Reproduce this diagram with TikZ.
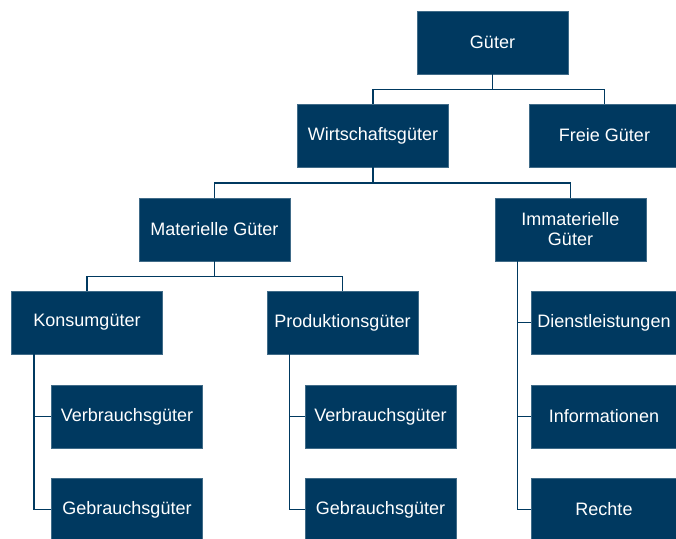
\documentclass[tikz,border=0pt]{standalone}
\usepackage{fontspec}
\setmainfont{Liberation Sans}
\definecolor{gueterblau}{RGB}{0,57,96}
\tikzset{every picture/.style={line width=0.75pt}}
\tikzset{
  box/.style={fill=gueterblau, draw=gueterblau!75!white, line width=0.4pt, text=white,
    minimum width=113.25pt, minimum height=47.25pt, inner sep=2pt, align=center,
    font=\fontsize{13.5}{15}\selectfont},
  schmal/.style={minimum width=108.75pt},
  ast/.style={draw=gueterblau, line width=1.1pt}
}
\begin{document}
\begin{tikzpicture}[x=0.75pt,y=0.75pt,yscale=-1,xscale=1]
\useasboundingbox (0,0) rectangle (676,539);

% Ebene 1 und 2
\node [box] (gueter) at (492.5,42.5) {Güter};
\node [box] (wirtschaft) at (373,135.5) {Wirtschaftsgüter};
\node [box] (freie) at (604.5,135.5) {Freie Güter};

% Ebene 3
\node [box] (materiell) at (214.5,229.5) {Materielle Güter};
\node [box] (immateriell) at (570.5,229.5) {Immaterielle\\Güter};

% Ebene 4
\node [box] (konsum) at (87,322.5) {Konsumgüter};
\node [box] (produktion) at (342.5,322.5) {Produktionsgüter};
\node [box,schmal] (dienst) at (604,322.5) {Dienstleistungen};

% Ebene 5 und 6
\node [box] (verbrauchK) at (127,416.5) {Verbrauchsgüter};
\node [box] (gebrauchK) at (127,509.5) {Gebrauchsgüter};
\node [box] (verbrauchP) at (380.5,416.5) {Verbrauchsgüter};
\node [box] (gebrauchP) at (380.5,509.5) {Gebrauchsgüter};
\node [box,schmal] (info) at (604,416.5) {Informationen};
\node [box,schmal] (rechte) at (604,509.5) {Rechte};

% Verbindungen
\draw [ast] (gueter.south) -- ++(0,15) -| (wirtschaft.north);
\draw [ast] (gueter.south) -- ++(0,15) -| (freie.north);
\draw [ast] (wirtschaft.south) -- ++(0,15.5) -| (materiell.north);
\draw [ast] (wirtschaft.south) -- ++(0,15.5) -| (immateriell.north);
\draw [ast] (materiell.south) -- ++(0,15) -| (konsum.north);
\draw [ast] (materiell.south) -- ++(0,15) -| (produktion.north);

\draw [ast] ([xshift=17pt]konsum.south west) |- (verbrauchK.west);
\draw [ast] ([xshift=17pt]konsum.south west) |- (gebrauchK.west);
\draw [ast] ([xshift=17pt]produktion.south west) |- (verbrauchP.west);
\draw [ast] ([xshift=17pt]produktion.south west) |- (gebrauchP.west);
\draw [ast] ([xshift=17pt]immateriell.south west) |- (dienst.west);
\draw [ast] ([xshift=17pt]immateriell.south west) |- (info.west);
\draw [ast] ([xshift=17pt]immateriell.south west) |- (rechte.west);

\end{tikzpicture}
\end{document}
